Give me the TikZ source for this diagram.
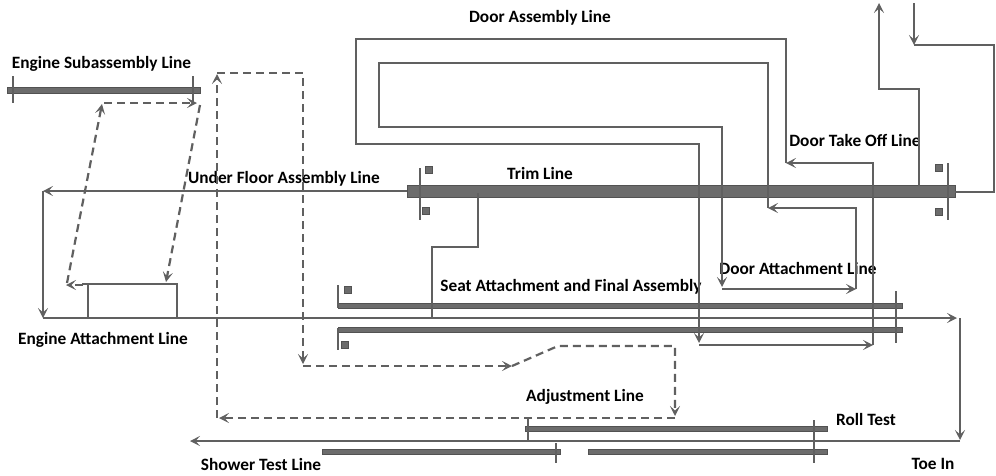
\documentclass[tikz,border=0pt]{standalone}
\usepackage{fontspec}
\setmainfont{Carlito}
\usetikzlibrary{arrows.meta}
\definecolor{lc}{RGB}{96,96,96}
\definecolor{bf}{RGB}{108,108,108}
\definecolor{bc}{RGB}{82,82,82}
\begin{document}
\begin{tikzpicture}[x=1pt,y=-1pt,
 lbl/.style={font=\bfseries\fontsize{17.3}{19}\selectfont, inner sep=0pt, text=black},
 ln/.style={draw=lc, line width=2.2pt, line join=miter},
 arr/.style={ln, -{Stealth[length=10pt,width=10pt,inset=4.5pt]}},
 dsh/.style={arr, dash pattern=on 8pt off 5pt},
 bar/.style={draw=bc, fill=bf, line width=0.6pt, inner sep=0pt, outer sep=0pt},
 tk/.style={draw=lc, line width=2pt},
 sq/.style={draw=bc, fill=bf, line width=1pt, minimum size=7pt, inner sep=0pt},
]
\useasboundingbox (0,0) rectangle (996,475);
% bars
\node[bar, minimum width=193pt, minimum height=6pt] (engbar) at (103.5,90) {};
\node[bar, minimum width=548pt, minimum height=12pt] (trimbar) at (681,191) {};
\node[bar, minimum width=564pt, minimum height=5pt] (seatU) at (620,306) {};
\node[bar, minimum width=564pt, minimum height=5pt] (seatL) at (620,330) {};
\node[bar, minimum width=302pt, minimum height=5pt] (rollU) at (676,429) {};
\node[bar, minimum width=239pt, minimum height=5pt] (rollL) at (707.5,452) {};
\node[bar, minimum width=238pt, minimum height=5pt] (showbar) at (441,452) {};
% squares
\node[sq] (s1) at (429,170) {};
\node[sq] (s2) at (426,211) {};
\node[sq] (s3) at (939,168) {};
\node[sq] (s4) at (939,212) {};
\node[sq] (s5) at (348,290) {};
\node[sq] (s6) at (345,345) {};
% labels
\node[lbl] (engsub) at (101.5,64) {Engine Subassembly Line};
\node[lbl] (doorasm) at (540,18) {Door Assembly Line};
\node[lbl] (dto) at (855,140) {Door Take Off Line};
\node[lbl] (ufl) at (284,179) {Under Floor Assembly Line};
\node[lbl] (trim) at (540,173) {Trim Line};
\node[lbl] (dal) at (798,268) {Door Attachment Line};
\node[lbl] (seat) at (571,287) {Seat Attachment and Final Assembly};
\node[lbl] (eal) at (103,340) {Engine Attachment Line};
\node[lbl] (adj) at (585,397) {Adjustment Line};
\node[lbl] (roll) at (866,419) {Roll Test};
\node[lbl] (toe) at (933,464) {Toe In};
\node[lbl] (shower) at (261,464) {Shower Test Line};
% coordinates
\coordinate (t1a) at (13,76); \coordinate (t1b) at (13,103);
\coordinate (t2a) at (193,76); \coordinate (t2b) at (193,103);
\coordinate (t3a) at (420,168); \coordinate (t3b) at (420,220);
\coordinate (t4a) at (948,163); \coordinate (t4b) at (948,220);
\coordinate (t5a) at (338,285); \coordinate (t5b) at (338,308);
\coordinate (t6a) at (338,328); \coordinate (t6b) at (338,350);
\coordinate (t7a) at (896,291); \coordinate (t7b) at (896,343);
\coordinate (t8a) at (814,420); \coordinate (t8b) at (814,463);
\coordinate (t9a) at (556,443); \coordinate (t9b) at (556,463);
% ticks
\draw[tk] (t1a) -- (t1b); \draw[tk] (t2a) -- (t2b);
\draw[tk] (t3a) -- (t3b); \draw[tk] (t4a) -- (t4b);
\draw[tk] (t5a) -- (t5b); \draw[tk] (t6a) -- (t6b);
\draw[tk] (t7a) -- (t7b); \draw[tk] (t8a) -- (t8b);
\draw[tk] (t9a) -- (t9b);
% main flow
\coordinate (uf0) at (407,191); \coordinate (uf1) at (43,191);
\coordinate (m0) at (43,318); \coordinate (m1) at (957,318);
\coordinate (m2) at (960,318); \coordinate (m3) at (960,440);
\coordinate (b0) at (960,441); \coordinate (b1) at (190,441);
\draw[arr] (uf0) -- (uf1);
\draw[arr] (uf1) -- (m0);
\draw[arr] (m0) -- (m1);
\draw[arr] (m2) -- (m3);
\draw[arr] (b0) -- (b1);
% engine attachment box
\coordinate (e0) at (82,284); \coordinate (e1) at (177,284); \coordinate (e2) at (177,318);
\coordinate (e3) at (88,284); \coordinate (e4) at (88,318);
\draw[ln] (e0) -- (e1) -- (e2);
\draw[ln] (e3) -- (e4);
% trim drop
\coordinate (d0) at (478,193); \coordinate (d1) at (478,247);
\coordinate (d2) at (432,247); \coordinate (d3) at (432,318);
\draw[ln] (d0) -- (d1) -- (d2) -- (d3);
% door outer loop
\coordinate (o0) at (873,345); \coordinate (o1) at (873,163); \coordinate (o2) at (786,163);
\coordinate (o3) at (786,39); \coordinate (o4) at (356,39); \coordinate (o5) at (356,144);
\coordinate (o6) at (699,144); \coordinate (o7) at (699,343); \coordinate (o8) at (699,345);
\draw[arr] (o0) -- (o1) -- (o2);
\draw[arr] (o2) -- (o3) -- (o4) -- (o5) -- (o6) -- (o7);
\draw[arr] (o8) -- (o0);
% door inner loop
\coordinate (i0) at (856,289); \coordinate (i1) at (856,208); \coordinate (i2) at (768,208);
\coordinate (i3) at (768,63); \coordinate (i4) at (379,63); \coordinate (i5) at (379,127);
\coordinate (i6) at (722,127); \coordinate (i7) at (722,287); \coordinate (i8) at (722,289);
\draw[arr] (i0) -- (i1) -- (i2);
\draw[arr] (i2) -- (i3) -- (i4) -- (i5) -- (i6) -- (i7);
\draw[arr] (i8) -- (i0);
% top right
\coordinate (r0) at (919,186); \coordinate (r1) at (919,89); \coordinate (r2) at (879,89);
\coordinate (r3) at (879,3);
\coordinate (q0) at (914,3); \coordinate (q1) at (914,45); \coordinate (q2) at (994,45);
\coordinate (q3) at (994,192); \coordinate (q4) at (955,192);
\draw[arr] (r0) -- (r1) -- (r2) -- (r3);
\draw[arr] (q0) -- (q1);
\draw[ln] (q1) -- (q2) -- (q3) -- (q4);
% roll connector
\coordinate (c0) at (528,418); \coordinate (c1) at (528,441);
\draw[ln] (c0) -- (c1);
% engine dashed
\coordinate (n0) at (83,285); \coordinate (n1) at (66,285);
\coordinate (n2) at (67,283); \coordinate (n3) at (102,104);
\coordinate (n4) at (104,103); \coordinate (n5) at (197,103);
\coordinate (n6) at (200,105); \coordinate (n7) at (166,282);
\draw[dsh] (n0) -- (n1);
\draw[dsh] (n2) -- (n3);
\draw[dsh] (n4) -- (n5);
\draw[dsh] (n6) -- (n7);
% adjustment dashed loop
\coordinate (a0) at (217,418); \coordinate (a1) at (217,74);
\coordinate (a2) at (217,73); \coordinate (a3) at (303,73); \coordinate (a4) at (303,364);
\coordinate (a5) at (303,366); \coordinate (a6) at (512,366);
\coordinate (a7) at (558,346); \coordinate (a8) at (675,346); \coordinate (a9) at (675,416);
\coordinate (a10) at (675,418); \coordinate (a11) at (219,418);
\draw[dsh] (a0) -- (a1);
\draw[dsh] (a2) -- (a3) -- (a4);
\draw[dsh] (a5) -- (a6);
\draw[dsh] (a6) -- (a7) -- (a8) -- (a9);
\draw[dsh] (a10) -- (a11);
\end{tikzpicture}
\end{document}
